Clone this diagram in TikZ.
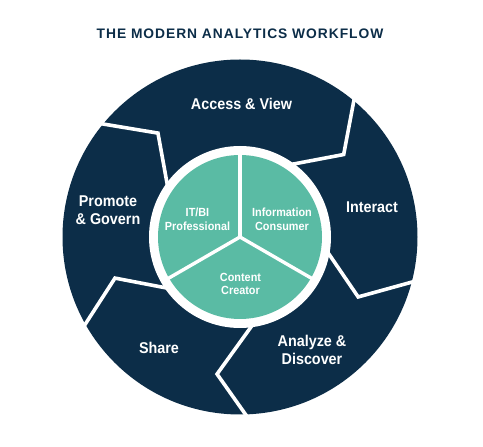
\documentclass[tikz,border=0pt]{standalone}
\usepackage{fontspec}
\setmainfont{Liberation Sans}
\newfontfamily\lblfont[FakeStretch=0.92]{Liberation Sans}
\newfontfamily\ttlfont[LetterSpace=7]{Liberation Sans}
\usetikzlibrary{calc}
\definecolor{navyc}{RGB}{12,45,72}
\definecolor{tealc}{RGB}{90,187,164}
\begin{document}
\begin{tikzpicture}[x=1pt,y=1pt,
  sep/.style={white, line width=3.6pt, line join=miter},
  divider/.style={white, line width=3.4pt},
  outer label/.style={text=white, font=\lblfont\bfseries\fontsize{15.6}{18.3}\selectfont, align=center, inner sep=0pt},
  inner label/.style={text=white, font=\lblfont\bfseries\fontsize{11.8}{13.7}\selectfont, align=center, inner sep=0pt},
  title label/.style={text=navyc, font=\ttlfont\bfseries\fontsize{13.8}{16}\selectfont, inner sep=0pt}]
\useasboundingbox (0,0) rectangle (483,447);
\coordinate (C) at (240,210);
\fill[navyc] (C) circle (177.5);
\foreach \a/\b/\rb/\c in {57.3/38.5/132.5/51.4, -7/-26.9/132.5/-13.4, -79.4/-99.5/139/-86.7, -142.1/-161.8/131.6/-149.4, 147.3/128.3/132.4/141.8}
  \draw[sep] ($(C)+(\a:85)$) -- ($(C)+(\b:\rb)$) -- ($(C)+(\c:185)$);
\fill[white] (C) circle (91);
\fill[tealc] (C) circle (82);
\foreach \a in {90,210,330}
  \draw[divider] (C) -- ($(C)+(\a:84)$);
\node[title label] (title) at (240,413.5) {THE MODERN ANALYTICS WORKFLOW};
\node[outer label, anchor=base] (access) at (241.5,337) {Access \& View};
\node[outer label, anchor=base] (interact) at (372,234.3) {Interact};
\node[outer label] (promote) at (108,237) {Promote\\\& Govern};
\node[outer label, anchor=base] (share) at (159,93) {Share};
\node[outer label] (analyze) at (312,97) {Analyze \&\\Discover};
\node[inner label] (itbi) at (197.5,227.7) {IT/BI\\Professional};
\node[inner label] (info) at (282,227.7) {Information\\Consumer};
\node[inner label] (content) at (240.5,163.2) {Content\\Creator};
\end{tikzpicture}
\end{document}
